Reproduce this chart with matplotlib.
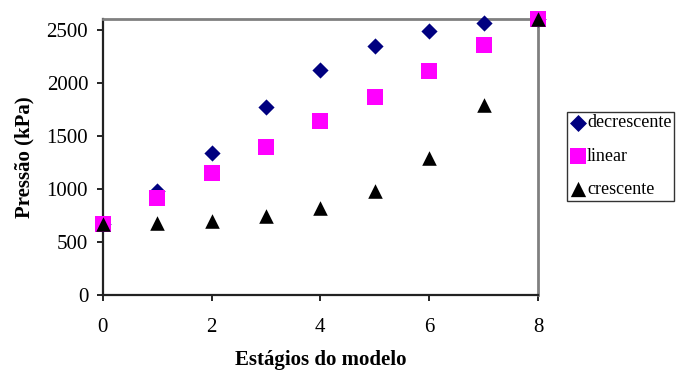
import matplotlib.pyplot as plt

# Pressure at each model stage for three loading profiles
estagios = [0, 1, 2, 3, 4, 5, 6, 7, 8]
decrescente = [670, 975, 1340, 1775, 2120, 2350, 2490, 2565, 2600]
linear = [670, 910, 1150, 1395, 1640, 1870, 2115, 2355, 2600]
crescente = [670, 680, 700, 740, 820, 975, 1295, 1795, 2600]

plt.rcParams["font.family"] = ["Liberation Serif", "DejaVu Serif"]

fig = plt.figure(figsize=(6.78, 3.71), dpi=100)
ax = fig.add_axes([0.1515, 0.2057, 0.642, 0.7423])

ax.scatter(estagios, decrescente, marker="D", s=68, color="#000080",
           label="decrescente", clip_on=False, zorder=3, linewidths=0)
ax.scatter(estagios, linear, marker="s", s=120, color="#ff00ff",
           label="linear", clip_on=False, zorder=3, linewidths=0)
ax.scatter(estagios, crescente, marker="^", s=110, color="black",
           label="crescente", clip_on=False, zorder=4, linewidths=0)

ax.set_xlim(0, 8)
ax.set_ylim(0, 2600)
ax.set_xticks([0, 2, 4, 6, 8])
ax.set_yticks([0, 500, 1000, 1500, 2000, 2500])

ax.tick_params(axis="x", direction="out", length=4, width=1.2, pad=13, labelsize=15)
ax.tick_params(axis="y", direction="out", length=4.5, width=1.2, pad=6, labelsize=15)

for side in ("left", "bottom"):
    ax.spines[side].set_color("#222222")
    ax.spines[side].set_linewidth(1.6)
for side in ("top", "right"):
    ax.spines[side].set_color("#808080")
    ax.spines[side].set_linewidth(2)

ax.set_xlabel("Estágios do modelo", fontsize=15, fontweight="bold", labelpad=9)
ax.set_ylabel("Pressão (kPa)", fontsize=15, fontweight="bold", labelpad=9)

ax.legend(loc="center left", bbox_to_anchor=(0.8365, 0.579), bbox_transform=fig.transFigure,
          fontsize=13, frameon=True, fancybox=False, edgecolor="black",
          handlelength=0.85, handletextpad=0.1, borderpad=0.15, labelspacing=0.9,
          borderaxespad=0, markerscale=1.05)

fig.savefig("out.png", dpi=100)
